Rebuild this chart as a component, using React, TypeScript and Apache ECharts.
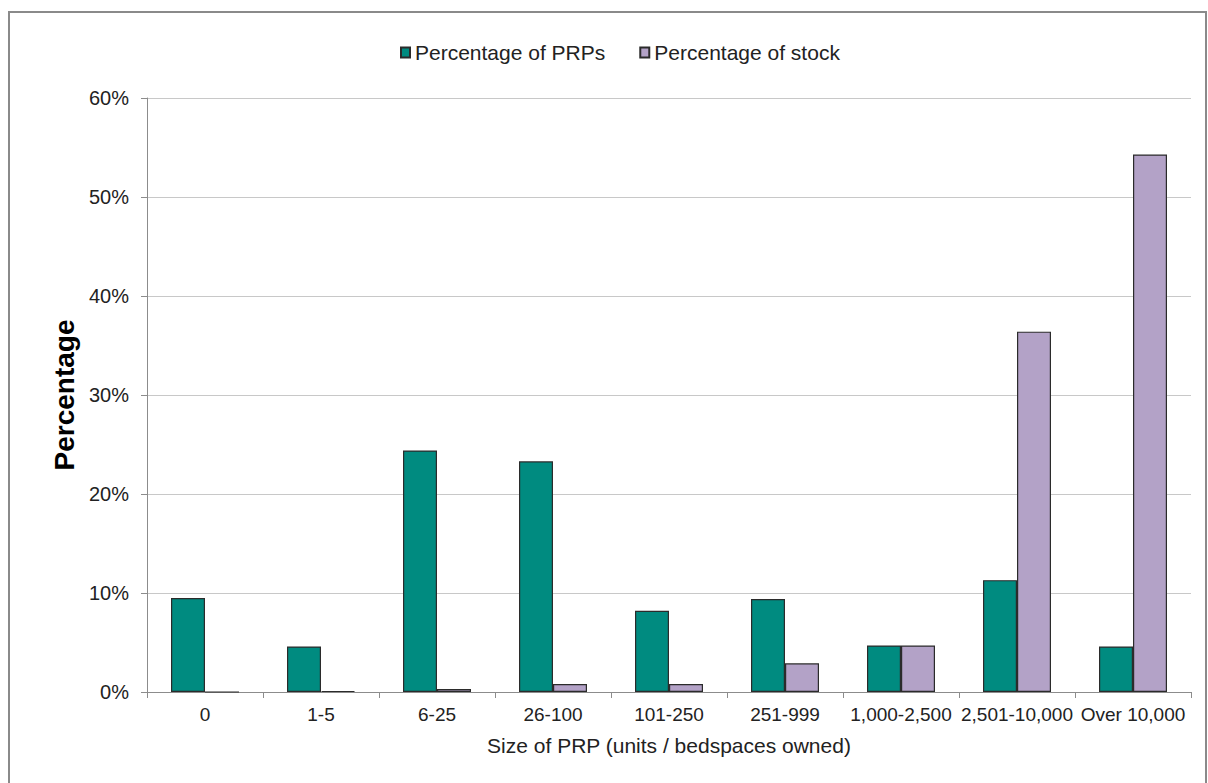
import React, { useEffect, useRef } from "react";
import * as echarts from "echarts";

const categories = ["0", "1-5", "6-25", "26-100", "101-250", "251-999", "1,000-2,500", "2,501-10,000", "Over 10,000"];
const prpValues = [9.5, 4.6, 24.4, 23.3, 8.2, 9.4, 4.7, 11.3, 4.6];
const stockValues = [0, 0.1, 0.3, 0.8, 0.8, 2.9, 4.7, 36.4, 54.3];
const seriesNames = ["Percentage of PRPs", "Percentage of stock"];
const xTitle = "Size of PRP (units / bedspaces owned)";
const yTitle = "Percentage";

const FONT = "'Liberation Sans', Arial, sans-serif";

export default function App() {
  const ref = useRef<HTMLDivElement>(null);
  useEffect(() => {
    if (!ref.current) return;
    const chart = echarts.init(ref.current, null, { renderer: "svg" });
    chart.setOption({
      animation: false,
      backgroundColor: "#ffffff",
      textStyle: { fontFamily: FONT },
      graphic: [
        {
          type: "rect",
          shape: { x: 9, y: 12, width: 1197, height: 800 },
          style: { fill: "none", stroke: "#8a8a8a", lineWidth: 2 },
          silent: true,
        },
      ],
      legend: {
        left: 395,
        top: 37,
        itemWidth: 9,
        itemHeight: 10,
        itemGap: 34,
        icon: "rect",
        textStyle: { fontFamily: FONT, fontSize: 21, color: "#222", padding: [0, 0, 0, 0] },
        data: seriesNames,
      },
      grid: { left: 147, right: 17, top: 98, bottom: 91, containLabel: false },
      xAxis: {
        type: "category",
        data: categories,
        name: xTitle,
        nameLocation: "middle",
        nameGap: 43,
        nameTextStyle: { fontFamily: FONT, fontSize: 21, color: "#222" },
        axisLine: { lineStyle: { color: "#8c8c8c", width: 1 } },
        axisTick: { show: true, length: 6, lineStyle: { color: "#8c8c8c" } },
        axisLabel: { fontFamily: FONT, fontSize: 19, color: "#222", margin: 13, interval: 0 },
      },
      yAxis: {
        type: "value",
        min: 0,
        max: 60,
        interval: 10,
        name: yTitle,
        nameLocation: "middle",
        nameGap: 68,
        nameTextStyle: { fontFamily: FONT, fontSize: 28, fontWeight: "bold", color: "#000" },
        axisLine: { show: true, lineStyle: { color: "#8c8c8c", width: 1 } },
        axisTick: { show: true, length: 6, lineStyle: { color: "#8c8c8c" } },
        axisLabel: { fontFamily: FONT, fontSize: 20, color: "#222", margin: 18, formatter: "{value}%" },
        splitLine: { show: true, lineStyle: { color: "#c8c8c8", width: 1 } },
      },
      series: [
        {
          name: seriesNames[0],
          type: "bar",
          data: prpValues,
          barWidth: 34,
          barGap: "0%",
          itemStyle: { color: "#008B80", borderColor: "#2b2b2b", borderWidth: 1.2 },
        },
        {
          name: seriesNames[1],
          type: "bar",
          data: stockValues,
          barWidth: 34,
          barGap: "0%",
          itemStyle: { color: "#B3A2C7", borderColor: "#2b2b2b", borderWidth: 1.2 },
        },
      ],
    });
    return () => chart.dispose();
  }, []);
  return (
    <div
      ref={ref}
      style={{ position: "absolute", left: 0, top: 0, width: 1208, height: 783 }}
    />
  );
}
